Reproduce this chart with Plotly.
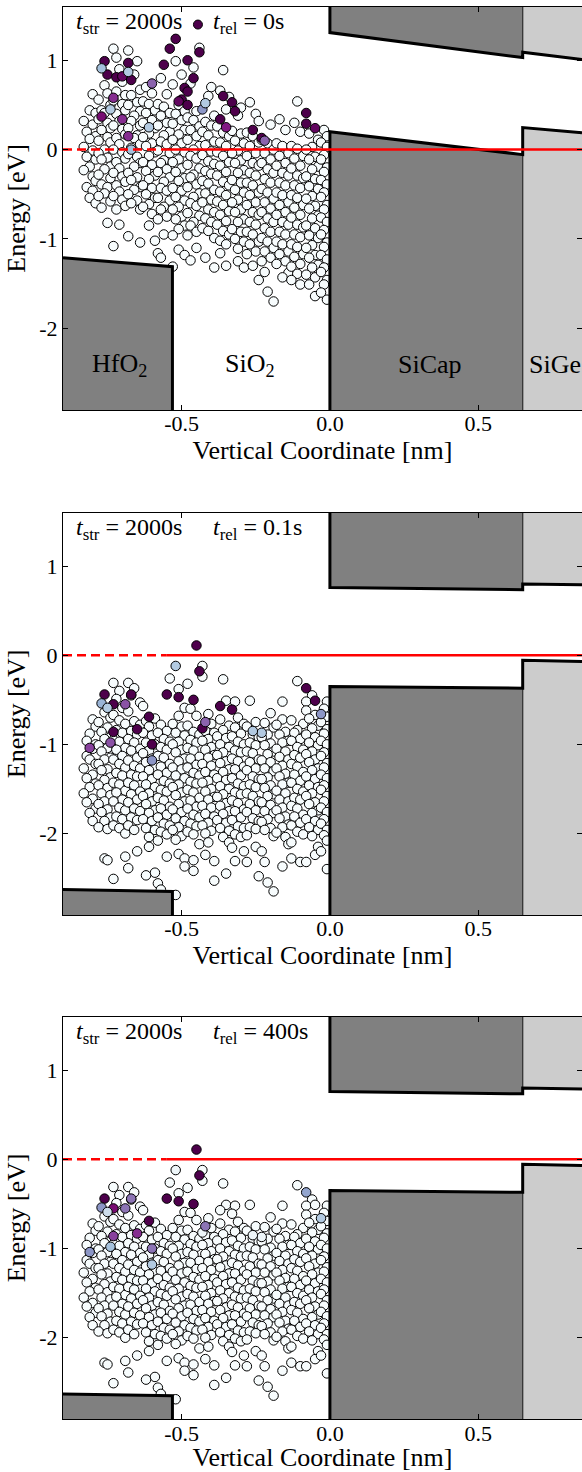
import plotly.graph_objects as go

# ---------------------------------------------------------------------------
# Band-edge data (x in nm, energies in eV)
# ---------------------------------------------------------------------------
HFO2_X = [-0.90, -0.531]
SICAP_X = [0.0, 0.65]
SIGE_X = [0.65, 0.85]

# end of stress (t_rel = 0 s)
STRESS_HFO2_EV = [-1.21, -1.31]
STRESS_SICAP_EV = [0.20, -0.056]
STRESS_SIGE_EV = [0.247, 0.19]
STRESS_SICAP_EC = [1.31, 1.03]
STRESS_SIGE_EC = [1.09, 1.01]

# recovery bias (t_rel = 0.1 s and 400 s)
RELAX_HFO2_EV = [-2.63, -2.65]
RELAX_SICAP_EV = [-0.35, -0.37]
RELAX_SIGE_EV = [-0.055, -0.07]
RELAX_SICAP_EC = [0.76, 0.735]
RELAX_SIGE_EC = [0.80, 0.79]

FERMI_LEVEL = 0.0
FERMI_DASH_END = -0.55

X_TICKS = [-0.5, 0.0, 0.5]
X_TICK_TEXT = ["-0.5", "0.0", "0.5"]
Y_TICKS = [-2, -1, 0, 1]
Y_TICK_TEXT = ["-2", "-1", "0", "1"]

# ---------------------------------------------------------------------------
# Oxide defects: (x, E) in units of 0.01 nm / 0.01 eV
# ---------------------------------------------------------------------------
STRESS_EMPTY = [
    (-80,62),(-81,44),(-79,41),(-83,32),(-80,28),(-82,20),(-79,15),(-81,12),(-83,3),(-80,-1),(-82,-8),(-79,-11),(-81,-19),(-83,-23),(-80,-30),(-79,-35),(-82,-42),(-80,-46),(-81,-54),(-79,-60),
    (-76,72),(-75,63),(-78,56),(-74,50),(-77,44),(-76,41),(-78,34),(-75,30),(-74,24),(-77,22),(-75,14),(-78,10),(-74,8),(-76,0),(-78,-4),(-75,-9),(-77,-11),(-74,-19),(-76,-22),(-78,-28),(-74,-32),(-77,-39),(-75,-42),(-76,-49),(-78,-52),(-74,-58),(-77,-65),(-75,-82),
    (-73,113),(-72,103),(-71,90),(-70,76),(-72,65),(-69,61),(-73,55),(-70,51),(-69,44),(-72,40),(-71,32),(-73,27),(-70,23),(-69,17),(-72,13),(-71,6),(-73,0),(-70,-3),(-69,-10),(-72,-14),(-71,-21),(-73,-26),(-70,-30),(-69,-36),(-72,-40),(-71,-47),(-73,-52),(-70,-56),(-69,-63),(-72,-67),(-71,-84),(-73,-108),
    (-68,111),(-65,99),(-66,84),(-64,67),(-67,61),(-65,53),(-68,50),(-64,43),(-66,38),(-67,32),(-64,27),(-68,24),(-65,16),(-66,13),(-64,6),(-67,2),(-68,-5),(-65,-8),(-64,-15),(-66,-19),(-68,-26),(-65,-31),(-67,-34),(-64,-42),(-66,-45),(-68,-50),(-65,-57),(-67,-60),(-64,-67),(-68,-97),(-64,-104),
    (-62,70),(-60,63),(-63,54),(-61,51),(-59,44),(-62,41),(-60,33),(-63,30),(-59,24),(-61,18),(-63,14),(-60,7),(-62,4),(-59,-3),(-61,-7),(-63,-14),(-60,-17),(-62,-24),(-59,-29),(-61,-33),(-63,-40),(-60,-43),(-62,-50),(-59,-54),(-61,-61),(-63,-64),(-60,-72),(-61,-85),(-59,-102),
    (-57,80),(-55,62),(-58,51),(-56,48),(-54,41),(-57,38),(-55,30),(-58,27),(-54,20),(-56,16),(-57,9),(-55,6),(-58,-1),(-54,-4),(-56,-12),(-57,-15),(-55,-22),(-58,-25),(-54,-31),(-56,-36),(-57,-43),(-55,-46),(-58,-54),(-54,-57),(-56,-64),(-57,-67),(-55,-75),(-58,-78),(-56,-95),(-58,-116),(-57,-121),
    (-52,99),(-50,84),(-53,73),(-51,50),(-49,43),(-52,40),(-50,33),(-53,29),(-49,22),(-51,17),(-53,11),(-50,7),(-52,0),(-49,-3),(-51,-11),(-53,-14),(-50,-21),(-52,-25),(-49,-32),(-51,-35),(-53,-43),(-50,-46),(-52,-53),(-49,-57),(-51,-64),(-53,-67),(-50,-75),(-52,-78),(-49,-85),(-51,-89),(-53,-96),(-51,-112),(-49,-118),(-53,-131),
    (-44,114),(-46,92),(-47,74),(-45,43),(-48,36),(-46,33),(-44,26),(-47,22),(-45,15),(-48,11),(-44,4),(-46,0),(-47,-7),(-45,-10),(-48,-17),(-44,-21),(-46,-28),(-47,-31),(-45,-39),(-48,-42),(-44,-49),(-46,-53),(-47,-60),(-45,-63),(-48,-71),(-44,-74),(-46,-81),(-47,-85),(-45,-92),(-48,-96),(-45,-110),(-47,-124),
    (-40,70),(-41,60),(-39,38),(-42,31),(-40,27),(-43,20),(-41,16),(-39,9),(-42,5),(-40,-2),(-43,-6),(-41,-13),(-39,-16),(-42,-24),(-40,-27),(-43,-35),(-41,-38),(-39,-45),(-42,-49),(-40,-56),(-43,-59),(-41,-67),(-39,-70),(-42,-77),(-40,-81),(-43,-88),(-41,-91),(-39,-99),(-42,-121),(-39,-132),
    (-36,89),(-37,66),(-34,59),(-35,45),(-38,26),(-36,19),(-34,15),(-37,8),(-35,4),(-38,-3),(-36,-7),(-34,-14),(-37,-18),(-35,-25),(-38,-29),(-36,-36),(-34,-40),(-37,-47),(-35,-51),(-38,-58),(-36,-62),(-34,-69),(-37,-73),(-35,-80),(-38,-84),(-36,-91),(-34,-95),(-37,-102),(-35,-106),(-37,-116),(-35,-130),
    (-30,47),(-31,38),(-33,21),(-30,18),(-32,10),(-29,7),(-31,-1),(-33,-4),(-30,-12),(-32,-15),(-29,-23),(-31,-26),(-33,-34),(-30,-37),(-32,-45),(-29,-48),(-31,-56),(-33,-59),(-30,-67),(-32,-70),(-29,-78),(-31,-81),(-33,-89),(-30,-92),(-32,-100),(-29,-103),(-31,-111),(-31,-125),(-29,-132),
    (-27,53),(-25,40),(-24,32),(-28,19),(-26,15),(-24,8),(-27,4),(-25,-4),(-28,-7),(-26,-15),(-24,-18),(-27,-26),(-25,-29),(-28,-37),(-26,-40),(-24,-48),(-27,-51),(-25,-59),(-28,-62),(-26,-70),(-24,-73),(-27,-81),(-25,-84),(-28,-92),(-26,-95),(-24,-103),(-27,-106),(-25,-114),(-28,-117),(-26,-130),(-24,-146),
    (-20,28),(-23,11),(-21,7),(-19,0),(-22,-4),(-20,-11),(-23,-15),(-21,-22),(-19,-26),(-22,-33),(-20,-37),(-23,-44),(-21,-48),(-19,-55),(-22,-59),(-20,-66),(-23,-70),(-21,-77),(-19,-81),(-22,-88),(-20,-92),(-23,-99),(-21,-103),(-19,-110),(-22,-114),(-20,-121),(-23,-125),(-22,-137),(-21,-159),(-19,-170),
    (-17,34),(-15,22),(-18,7),(-16,4),(-14,-4),(-17,-7),(-15,-15),(-18,-18),(-16,-26),(-14,-29),(-17,-37),(-15,-40),(-18,-48),(-16,-51),(-14,-59),(-17,-62),(-15,-70),(-18,-73),(-16,-81),(-14,-84),(-17,-92),(-15,-95),(-18,-103),(-16,-106),(-14,-114),(-17,-117),(-15,-125),(-18,-128),(-14,-138),(-16,-143),
    (-11,54),(-12,30),(-10,20),(-13,4),(-11,1),(-9,-7),(-12,-10),(-10,-18),(-13,-21),(-11,-29),(-9,-32),(-12,-40),(-10,-43),(-13,-51),(-11,-54),(-9,-62),(-12,-65),(-10,-73),(-13,-76),(-11,-84),(-9,-87),(-12,-95),(-10,-98),(-13,-106),(-11,-109),(-9,-117),(-12,-120),(-10,-128),(-13,-131),(-11,-139),(-13,-146),(-10,-151),
    (-7,18),(-4,11),(-6,3),(-8,0),(-5,-8),(-7,-11),(-4,-19),(-6,-22),(-8,-30),(-5,-33),(-7,-41),(-4,-44),(-6,-52),(-8,-55),(-5,-63),(-7,-66),(-4,-74),(-6,-77),(-8,-85),(-5,-88),(-7,-96),(-4,-99),(-6,-107),(-8,-110),(-5,-118),(-7,-121),(-4,-129),(-6,-132),(-8,-140),(-5,-143),(-7,-151),(-5,-164),
    (-2,22),(-1,15),(-3,8),(-1,3),(-2,-6),(-3,-11),(-1,-20),(-2,-25),(-3,-34),(-1,-39),(-2,-48),(-3,-53),(-1,-62),(-2,-67),(-3,-76),(-1,-81),(-2,-90),(-3,-95),(-1,-104),(-2,-109),(-3,-118),(-1,-123),(-2,-132),(-3,-137),(-1,-146),(-2,-151),(-3,-160),(-1,-168),
]

# charged defects at the end of stress: (x, E, occupancy)
STRESS_CHARGED = [
    (-76,99,1.0),(-75,84,1.0),(-72,81,1.0),(-70,82,0.95),(-67,78,1.0),(-68,97,1.0),(-54,113,1.0),(-52,124,1.0),
    (-56,95,1.0),(-48,100,1.0),(-46,80,1.0),(-44,109,1.0),(-49,69,1.0),(-48,65,1.0),(-50,56,1.0),(-51,54,0.95),
    (-48,50,1.0),(-36,60,1.0),(-33,53,1.0),(-32,43,1.0),(-37,34,1.0),(-35,25,0.85),(-26,22,1.0),(-23,13,1.0),
    (-22,10,0.65),(-8,41,1.0),(-8,29,1.0),(-5,24,0.95),(-77,37,0.9),(-73,58,0.8),(-70,34,0.8),(-68,15,0.8),
    (-60,74,0.65),(-43,45,0.5),(-77,91,0.35),(-68,87,0.3),(-74,45,0.3),(-61,25,0.3),(-42,52,0.3),(-67,0,0.35),
]

RELAX_EMPTY = [
    (-80,-72),(-79,-80),(-81,-88),(-82,-96),(-79,-100),(-80,-105),(-82,-113),(-81,-117),(-79,-122),(-83,-127),(-80,-134),(-82,-138),(-79,-144),(-81,-148),(-83,-155),(-80,-161),(-82,-165),(-79,-172),(-81,-177),(-80,-186),
    (-76,-64),(-74,-70),(-78,-75),(-75,-81),(-77,-86),(-74,-92),(-76,-94),(-78,-101),(-75,-104),(-77,-108),(-74,-115),(-76,-117),(-78,-122),(-75,-128),(-77,-129),(-74,-137),(-76,-140),(-78,-146),(-75,-149),(-77,-155),(-74,-157),(-76,-164),(-78,-167),(-75,-173),(-77,-176),(-74,-182),(-76,-186),(-78,-193),(-75,-195),(-76,-228),(-75,-230),
    (-73,-31),(-71,-40),(-72,-49),(-70,-59),(-73,-67),(-71,-73),(-69,-77),(-72,-84),(-70,-87),(-73,-95),(-71,-97),(-69,-104),(-72,-106),(-70,-113),(-73,-117),(-71,-122),(-69,-126),(-72,-132),(-70,-135),(-73,-143),(-71,-145),(-69,-152),(-72,-154),(-70,-162),(-73,-164),(-71,-171),(-69,-174),(-72,-181),(-70,-184),(-73,-191),(-71,-194),(-69,-200),(-69,-226),(-73,-251),
    (-68,-31),(-66,-37),(-67,-45),(-64,-53),(-68,-63),(-66,-74),(-64,-78),(-67,-85),(-65,-89),(-68,-94),(-66,-98),(-64,-105),(-67,-107),(-65,-115),(-68,-118),(-66,-124),(-64,-127),(-67,-134),(-65,-136),(-68,-143),(-66,-146),(-64,-153),(-67,-156),(-65,-162),(-68,-165),(-66,-172),(-64,-175),(-67,-182),(-65,-185),(-68,-191),(-66,-196),(-65,-220),(-68,-239),
    (-63,-57),(-62,-74),(-59,-71),(-61,-80),(-63,-87),(-60,-90),(-62,-98),(-59,-100),(-61,-107),(-63,-110),(-60,-116),(-62,-120),(-59,-126),(-61,-129),(-63,-136),(-60,-139),(-62,-145),(-59,-148),(-61,-155),(-63,-158),(-60,-164),(-62,-167),(-59,-174),(-61,-177),(-63,-184),(-60,-186),(-62,-194),(-59,-196),(-61,-204),(-61,-215),(-59,-244),(-62,-247),
    (-57,-78),(-55,-85),(-58,-87),(-56,-94),(-54,-97),(-57,-103),(-55,-106),(-58,-113),(-56,-115),(-54,-122),(-57,-125),(-55,-132),(-58,-134),(-56,-141),(-54,-144),(-57,-151),(-55,-153),(-58,-160),(-56,-163),(-54,-170),(-57,-172),(-55,-179),(-58,-182),(-56,-189),(-54,-191),(-57,-198),(-55,-201),(-58,-208),(-55,-226),(-58,-256),(-57,-263),
    (-54,-26),(-51,-38),(-49,-59),(-51,-68),(-53,-77),(-50,-80),(-52,-87),(-49,-90),(-51,-97),(-53,-100),(-50,-106),(-52,-109),(-49,-116),(-51,-119),(-53,-126),(-50,-128),(-52,-135),(-49,-138),(-51,-145),(-53,-148),(-50,-154),(-52,-157),(-49,-164),(-51,-167),(-53,-173),(-50,-176),(-52,-183),(-49,-186),(-51,-193),(-53,-196),(-50,-203),(-52,-207),(-51,-223),(-49,-228),(-49,-237),(-52,-269),
    (-48,-32),(-43,-12),(-43,-24),(-47,-60),(-45,-68),(-48,-79),(-46,-86),(-44,-89),(-47,-95),(-45,-98),(-48,-104),(-46,-107),(-44,-114),(-47,-116),(-45,-123),(-48,-126),(-46,-132),(-44,-135),(-47,-142),(-45,-144),(-48,-151),(-46,-154),(-44,-160),(-47,-163),(-45,-170),(-48,-172),(-46,-179),(-44,-182),(-47,-189),(-45,-192),(-48,-198),(-46,-201),(-44,-212),(-46,-230),(-46,-242),
    (-41,-66),(-40,-77),(-42,-85),(-39,-87),(-41,-94),(-43,-96),(-40,-103),(-42,-106),(-39,-112),(-41,-115),(-43,-122),(-40,-124),(-42,-131),(-39,-134),(-41,-141),(-43,-143),(-40,-150),(-42,-153),(-39,-159),(-41,-162),(-43,-169),(-40,-171),(-42,-178),(-39,-181),(-41,-188),(-43,-191),(-40,-197),(-42,-200),(-41,-210),(-42,-224),(-39,-231),(-39,-253),
    (-36,-27),(-35,-51),(-37,-72),(-34,-79),(-36,-84),(-38,-91),(-35,-93),(-37,-100),(-34,-103),(-36,-109),(-38,-112),(-35,-119),(-37,-121),(-34,-128),(-36,-131),(-38,-138),(-35,-140),(-37,-147),(-34,-150),(-36,-156),(-38,-159),(-35,-166),(-37,-169),(-34,-175),(-36,-178),(-38,-185),(-35,-188),(-37,-194),(-34,-197),(-36,-204),(-34,-210),(-33,-216),(-35,-245),
    (-32,-52),(-31,-70),(-29,-77),(-32,-81),(-30,-88),(-33,-91),(-31,-97),(-29,-100),(-32,-107),(-30,-109),(-33,-116),(-31,-119),(-29,-125),(-32,-128),(-30,-135),(-33,-138),(-31,-144),(-29,-147),(-32,-154),(-30,-156),(-33,-163),(-31,-166),(-29,-173),(-32,-175),(-30,-182),(-33,-185),(-31,-192),(-29,-194),(-32,-201),(-30,-204),(-29,-220),(-32,-231),
    (-27,-51),(-25,-75),(-28,-80),(-26,-89),(-24,-92),(-27,-98),(-25,-101),(-28,-108),(-26,-110),(-24,-117),(-27,-120),(-25,-127),(-28,-129),(-26,-136),(-24,-139),(-27,-145),(-25,-148),(-28,-155),(-26,-158),(-24,-164),(-27,-167),(-25,-174),(-28,-176),(-26,-183),(-24,-186),(-27,-193),(-25,-195),(-28,-202),(-25,-215),(-28,-232),(-24,-248),
    (-20,-65),(-22,-76),(-19,-81),(-21,-89),(-23,-92),(-20,-99),(-22,-101),(-19,-108),(-21,-111),(-23,-118),(-20,-120),(-22,-127),(-19,-130),(-21,-137),(-23,-139),(-20,-146),(-22,-149),(-19,-156),(-21,-158),(-23,-165),(-20,-168),(-22,-175),(-19,-177),(-21,-184),(-23,-187),(-20,-194),(-22,-196),(-19,-203),(-23,-220),(-22,-232),(-21,-255),(-19,-265),
    (-16,-52),(-16,-72),(-18,-78),(-15,-86),(-17,-89),(-14,-96),(-16,-98),(-18,-105),(-15,-108),(-17,-114),(-14,-117),(-16,-124),(-18,-127),(-15,-133),(-17,-136),(-14,-143),(-16,-145),(-18,-152),(-15,-155),(-17,-162),(-14,-164),(-16,-171),(-18,-174),(-15,-181),(-17,-183),(-14,-190),(-16,-193),(-18,-199),(-15,-204),(-14,-212),(-13,-228),(-16,-237),
    (-11,-29),(-13,-73),(-9,-77),(-11,-84),(-12,-87),(-10,-94),(-13,-96),(-11,-103),(-9,-106),(-12,-112),(-10,-115),(-13,-122),(-11,-125),(-9,-131),(-12,-134),(-10,-141),(-13,-143),(-11,-150),(-9,-153),(-12,-160),(-10,-162),(-13,-169),(-11,-172),(-9,-179),(-12,-181),(-10,-188),(-13,-191),(-11,-198),(-9,-201),(-13,-210),(-10,-232),
    (-6,-45),(-8,-52),(-8,-62),(-5,-67),(-7,-71),(-4,-79),(-6,-82),(-8,-89),(-5,-92),(-7,-98),(-4,-101),(-6,-108),(-8,-111),(-5,-117),(-7,-120),(-4,-127),(-6,-129),(-8,-136),(-5,-139),(-7,-146),(-4,-148),(-6,-155),(-8,-158),(-5,-165),(-7,-167),(-4,-174),(-6,-177),(-8,-184),(-5,-186),(-7,-193),(-4,-196),(-6,-203),(-4,-215),(-5,-224),(-8,-232),
    (-1,-52),(-2,-60),(-1,-69),(-3,-75),(-1,-83),(-2,-88),(-3,-96),(-1,-100),(-2,-109),(-3,-113),(-1,-121),(-2,-126),(-3,-134),(-1,-138),(-2,-146),(-3,-151),(-1,-158),(-2,-164),(-3,-171),(-1,-176),(-2,-184),(-3,-189),(-1,-196),(-2,-202),(-1,-208),(-3,-220),(-1,-240),
]

# defects that were charged during stress, seen under recovery bias
RELAX_CHARGED_XE = [
    (-76,-44),(-73,-55),(-67,-44),(-55,-44),(-51,-47),(-46,-50),(-45,11),(-44,-18),
    (-43,-82),(-37,-57),(-33,-61),(-8,-37),(-5,-51),(-61,-69),(-73,-86),(-65,-83),
    (-60,-100),(-69,-55),(-81,-104),(-74,-98),(-42,-75),(-77,-54),(-75,-59),(-52,-12),
    (-23,-87),(-26,-85),(-60,-118),(-3,-66),
]
OCC_REL_0P1S = [1.0,1.0,1.0,1.0,1.0,1.0,1.0,1.0, 1.0,1.0,1.0,1.0,1.0,1.0,1.0,1.0,
                1.0,0.7,0.75,0.7,0.65,0.4,0.3,0.3, 0.3,0.3,0.5,0.5]
OCC_REL_400S = [1.0,0.9,0.6,1.0,1.0,1.0,1.0,1.0, 0.05,0.0,0.0,0.45,0.0,1.0,0.75,0.8,
                0.6,0.6,0.5,0.35,0.6,0.5,0.2,0.05, 0.05,0.05,0.3,0.3]

PANELS = [
    dict(bands=(STRESS_HFO2_EV, STRESS_SICAP_EV, STRESS_SIGE_EV, STRESS_SICAP_EC, STRESS_SIGE_EC),
         empty=STRESS_EMPTY, charged=[(p[0], p[1]) for p in STRESS_CHARGED],
         occ=[p[2] for p in STRESS_CHARGED], t_rel="0s", legend_dot=True, materials=True),
    dict(bands=(RELAX_HFO2_EV, RELAX_SICAP_EV, RELAX_SIGE_EV, RELAX_SICAP_EC, RELAX_SIGE_EC),
         empty=RELAX_EMPTY, charged=RELAX_CHARGED_XE, occ=OCC_REL_0P1S, t_rel="0.1s",
         legend_dot=False, materials=False),
    dict(bands=(RELAX_HFO2_EV, RELAX_SICAP_EV, RELAX_SIGE_EV, RELAX_SICAP_EC, RELAX_SIGE_EC),
         empty=RELAX_EMPTY, charged=RELAX_CHARGED_XE, occ=OCC_REL_400S, t_rel="400s",
         legend_dot=False, materials=False),
]

# ---------------------------------------------------------------------------
# Styling
# ---------------------------------------------------------------------------
W, H = 582, 1472
X_RANGE = [-0.90, 0.85]
Y_RANGE = [-2.915, 1.60]
X_DOMAIN = [63 / W, 1.0]
Y_DOMAINS = [(1 - 410 / H, 1 - 6.7 / H), (1 - 915 / H, 1 - 512.7 / H), (1 - 1419.3 / H, 1 - 1016.7 / H)]
FONT = "Liberation Serif, DejaVu Serif, serif"
DARK_GREY = "#808080"
LIGHT_GREY = "#cccccc"
SCALE = 0.01
MARKER_SIZE = 9.5

fig = go.Figure()


def add_panel(k, p):
    xa = "x" if k == 0 else f"x{k + 1}"
    ya = "y" if k == 0 else f"y{k + 1}"
    hfo2_ev, sicap_ev, sige_ev, sicap_ec, sige_ec = p["bands"]
    lo, hi = Y_RANGE[0] - 0.5, Y_RANGE[1] + 0.5
    common = dict(xaxis=xa, yaxis=ya, hoverinfo="skip", showlegend=False)

    # defects
    ex = [q[0] * SCALE for q in p["empty"]]
    ey = [q[1] * SCALE for q in p["empty"]]
    fig.add_trace(go.Scatter(x=ex, y=ey, mode="markers",
                             marker=dict(size=MARKER_SIZE, color=[0.0] * len(ex), colorscale="BuPu",
                                         cmin=0, cmax=1, line=dict(width=1, color="black")), **common))
    cx = [q[0] * SCALE for q in p["charged"]]
    cy = [q[1] * SCALE for q in p["charged"]]
    fig.add_trace(go.Scatter(x=cx, y=cy, mode="markers",
                             marker=dict(size=MARKER_SIZE, color=p["occ"], colorscale="BuPu",
                                         cmin=0, cmax=1, line=dict(width=1, color="black")), **common))

    # band fills
    def poly(xs, ys, color):
        fig.add_trace(go.Scatter(x=xs, y=ys, mode="lines", fill="toself", fillcolor=color,
                                 line=dict(width=0, color=color), **common))

    poly([HFO2_X[0], HFO2_X[1], HFO2_X[1], HFO2_X[0]], [hfo2_ev[0], hfo2_ev[1], lo, lo], DARK_GREY)
    poly([SICAP_X[0], SICAP_X[1], SICAP_X[1], SICAP_X[0]], [sicap_ev[0], sicap_ev[1], lo, lo], DARK_GREY)
    poly([SIGE_X[0], SIGE_X[1], SIGE_X[1], SIGE_X[0]], [sige_ev[0], sige_ev[1], lo, lo], LIGHT_GREY)
    poly([SICAP_X[0], SICAP_X[1], SICAP_X[1], SICAP_X[0]], [sicap_ec[0], sicap_ec[1], hi, hi], DARK_GREY)
    poly([SIGE_X[0], SIGE_X[1], SIGE_X[1], SIGE_X[0]], [sige_ec[0], sige_ec[1], hi, hi], LIGHT_GREY)

    # interface between Si cap and SiGe
    fig.add_trace(go.Scatter(x=[SIGE_X[0], SIGE_X[0], None, SIGE_X[0], SIGE_X[0]],
                             y=[lo, min(sicap_ev[1], sige_ev[0]), None, max(sicap_ec[1], sige_ec[0]), hi],
                             mode="lines", line=dict(width=1.3, color="#333333"), **common))

    # band edges
    edge = dict(width=3, color="black")
    fig.add_trace(go.Scatter(x=[SICAP_X[0], SICAP_X[0], SICAP_X[1], SIGE_X[0], SIGE_X[1]],
                             y=[lo, sicap_ev[0], sicap_ev[1], sige_ev[0], sige_ev[1]],
                             mode="lines", line=edge, **common))
    fig.add_trace(go.Scatter(x=[SICAP_X[0], SICAP_X[0], SICAP_X[1], SIGE_X[0], SIGE_X[1]],
                             y=[hi, sicap_ec[0], sicap_ec[1], sige_ec[0], sige_ec[1]],
                             mode="lines", line=edge, **common))
    fig.add_trace(go.Scatter(x=[HFO2_X[0], HFO2_X[1], HFO2_X[1]], y=[hfo2_ev[0], hfo2_ev[1], lo],
                             mode="lines", line=edge, **common))

    # Fermi level
    fig.add_trace(go.Scatter(x=[X_RANGE[0], FERMI_DASH_END], y=[FERMI_LEVEL, FERMI_LEVEL], mode="lines",
                             line=dict(width=2.5, color="red", dash="9px,5px"), **common))
    fig.add_trace(go.Scatter(x=[FERMI_DASH_END, X_RANGE[1]], y=[FERMI_LEVEL, FERMI_LEVEL], mode="lines",
                             line=dict(width=2.5, color="red"), **common))

    # legend-like header
    if p["legend_dot"]:
        fig.add_trace(go.Scatter(x=[-0.445], y=[1.40], mode="markers",
                                 marker=dict(size=9, color=[1.0], colorscale="BuPu", cmin=0, cmax=1,
                                             line=dict(width=1, color="black")), **common))
    ann = []
    ann.append(dict(x=-0.862, y=1.42, xref=xa, yref=ya, xanchor="left", yanchor="middle", showarrow=False,
                    text="<i>t</i><sub>str</sub> = 2000s", font=dict(family=FONT, size=24, color="black")))
    ann.append(dict(x=-0.402, y=1.42, xref=xa, yref=ya, xanchor="left", yanchor="middle", showarrow=False,
                    text=f"<i>t</i><sub>rel</sub> = {p['t_rel']}", font=dict(family=FONT, size=24, color="black")))
    if p["materials"]:
        for txt, xx in [("HfO<sub>2</sub>", -0.711), ("SiO<sub>2</sub>", -0.27),
                        ("SiCap", 0.338), ("SiGe", 0.76)]:
            ann.append(dict(x=xx, y=-2.41, xref=xa, yref=ya, xanchor="center", yanchor="middle",
                            showarrow=False, text=txt, font=dict(family=FONT, size=26, color="black")))
    return ann


annotations = []
for k, p in enumerate(PANELS):
    annotations += add_panel(k, p)

axis_common = dict(showline=True, linecolor="black", linewidth=1, mirror="ticks", ticks="inside",
                   ticklen=5, tickwidth=1, tickcolor="black", showgrid=False, zeroline=False,
                   tickfont=dict(family=FONT, size=22, color="black"), layer="above traces")
layout = dict(width=W, height=H, margin=dict(l=0, r=0, t=0, b=0), paper_bgcolor="white",
              plot_bgcolor="white", showlegend=False, annotations=annotations)
for k in range(3):
    xk = "xaxis" if k == 0 else f"xaxis{k + 1}"
    yk = "yaxis" if k == 0 else f"yaxis{k + 1}"
    layout[xk] = dict(domain=X_DOMAIN, range=X_RANGE, anchor="y" if k == 0 else f"y{k + 1}",
                      tickvals=X_TICKS, ticktext=X_TICK_TEXT, ticklabelstandoff=-6,
                      title=dict(text="Vertical Coordinate [nm]", standoff=2,
                                 font=dict(family=FONT, size=26, color="black")), **axis_common)
    layout[yk] = dict(domain=list(Y_DOMAINS[k]), range=Y_RANGE, anchor="x" if k == 0 else f"x{k + 1}",
                      tickvals=Y_TICKS, ticktext=Y_TICK_TEXT,
                      title=dict(text="Energy [eV]", standoff=6,
                                 font=dict(family=FONT, size=26, color="black")), **axis_common)

fig.update_layout(**layout)
fig.write_html("out.html")
